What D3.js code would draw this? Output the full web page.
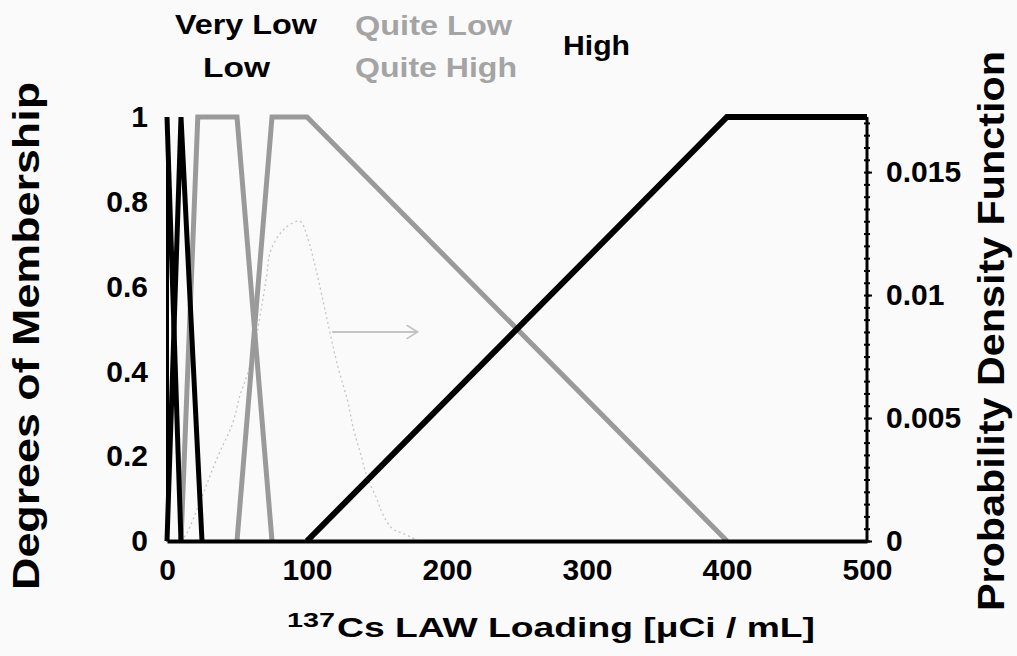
<!DOCTYPE html>
<html>
<head>
<meta charset="utf-8">
<script src="https://cdn.jsdelivr.net/npm/d3@7"></script>
<style>
  body { margin: 0; background: #fafafa; }
  svg { display: block; }
  text { font-family: "Liberation Sans", Arial, sans-serif; font-weight: bold; }
</style>
</head>
<body>
<svg id="chart"></svg>
<script>
// membership functions: [loading, degree]
const veryLow   = [[0, 1], [10, 0]];
const low       = [[0, 0], [10, 1], [25, 0]];
const quiteLow  = [[10, 0], [22, 1], [50, 1], [75, 0]];
const quiteHigh = [[50, 0], [75, 1], [100, 1], [400, 0]];
const high      = [[100, 0], [400, 1], [500, 1]];

// probability density of the loading (right axis)
const pdfX = [10, 14, 36, 47, 52, 57, 61, 71, 74, 84, 95, 100, 107, 114, 122, 129, 133, 138, 143, 150, 154, 161, 169, 180];
const pdfY = [0, 0.0003, 0.0034, 0.0048, 0.0059, 0.0067, 0.0075, 0.0107, 0.0118, 0.0127, 0.0130, 0.0124, 0.0109, 0.0091, 0.0071, 0.0057, 0.0046, 0.0036, 0.0026, 0.0017, 0.0011, 0.0005, 0.0003, 0];

// arrow pointing to the right-hand axis: [loading, density]
const arrowFrom = [118, 0.0085];
const arrowTo   = [179, 0.0085];

const xTicks = [0, 100, 200, 300, 400, 500];
const yTicks = [0, 0.2, 0.4, 0.6, 0.8, 1];
const pdfTicks = [0, 0.005, 0.01, 0.015];
const pdfMinor = d3.range(0, 35).map(i => i * 0.0005);

const legend = [
  { name: 'Very Low',   color: '#000',    x: 175, y: 34, w: 142 },
  { name: 'Low',        color: '#000',    x: 203, y: 77, w: 67 },
  { name: 'Quite Low',  color: '#a4a4a4', x: 355, y: 35, w: 157 },
  { name: 'Quite High', color: '#a4a4a4', x: 355, y: 77, w: 162 },
  { name: 'High',       color: '#000',    x: 563, y: 55, w: 67 }
];

const width = 1017;
const height = 656;
const margin = { top: 117, right: 150, bottom: 115, left: 167 };
const innerW = width - margin.left - margin.right;
const innerH = height - margin.top - margin.bottom;

const svg = d3.select('#chart')
  .attr('width', width)
  .attr('height', height);

const chart = svg.append('g')
  .attr('transform', `translate(${margin.left},${margin.top})`);

const xScale = d3.scaleLinear().domain([0, 500]).range([0, innerW]);
const yScale = d3.scaleLinear().domain([0, 1]).range([innerH, 0]);
const pdfScale = d3.scaleLinear().domain([0, 0.01724]).range([innerH, 0]);

const line = d3.line()
  .x(d => xScale(d[0]))
  .y(d => yScale(d[1]));

// PDF curve (faint dotted)
chart.append('path')
  .datum(pdfX.map((x, i) => [x, pdfY[i]]))
  .attr('fill', 'none')
  .attr('stroke', '#c4c4c4')
  .attr('stroke-width', 1.3)
  .attr('stroke-dasharray', '2,3')
  .attr('d', d3.line()
    .x(d => xScale(d[0]))
    .y(d => pdfScale(d[1]))
    .curve(d3.curveCatmullRom));

// Arrow
svg.append('defs').append('marker')
  .attr('id', 'head')
  .attr('viewBox', '0 0 10 10')
  .attr('refX', 9)
  .attr('refY', 5)
  .attr('markerWidth', 14)
  .attr('markerHeight', 14)
  .attr('markerUnits', 'userSpaceOnUse')
  .attr('orient', 'auto')
  .append('path')
  .attr('d', 'M1,0 L9,5 L1,10')
  .attr('fill', 'none')
  .attr('stroke', '#c4c4c4')
  .attr('stroke-width', 1.2);

chart.append('line')
  .attr('x1', xScale(arrowFrom[0]))
  .attr('y1', pdfScale(arrowFrom[1]))
  .attr('x2', xScale(arrowTo[0]))
  .attr('y2', pdfScale(arrowTo[1]))
  .attr('stroke', '#c4c4c4')
  .attr('stroke-width', 2)
  .attr('marker-end', 'url(#head)');

// Membership functions
const sets = [
  { data: quiteLow, color: '#9a9a9a', w: 5 },
  { data: quiteHigh, color: '#9a9a9a', w: 5 },
  { data: veryLow, color: '#000', w: 5 },
  { data: low, color: '#000', w: 5 },
  { data: high, color: '#000', w: 6 }
];

chart.selectAll('.mf')
  .data(sets)
  .enter()
  .append('path')
  .attr('class', 'mf')
  .attr('fill', 'none')
  .attr('stroke', d => d.color)
  .attr('stroke-width', d => d.w)
  .attr('stroke-linejoin', 'miter')
  .attr('d', d => line(d.data));

// X Axis
const xAxis = chart.append('g')
  .attr('transform', `translate(0,${innerH})`)
  .call(d3.axisBottom(xScale).tickValues(xTicks).tickSize(0).tickPadding(18));
xAxis.select('.domain').attr('stroke', '#000').attr('stroke-width', 4);
xAxis.selectAll('text').attr('font-size', 30).attr('fill', '#000');

// Left Y Axis
const yAxis = chart.append('g')
  .call(d3.axisLeft(yScale).tickValues(yTicks).tickSize(0).tickPadding(19).tickFormat(d3.format('~g')));
yAxis.select('.domain').attr('stroke', '#000').attr('stroke-width', 3);
yAxis.selectAll('text').attr('font-size', 30).attr('fill', '#000');

// Right Y Axis
chart.append('line')
  .attr('x1', innerW).attr('x2', innerW)
  .attr('y1', 0).attr('y2', innerH)
  .attr('stroke', '#000').attr('stroke-width', 3);

chart.append('g')
  .attr('transform', `translate(${innerW - 3},0)`)
  .call(d3.axisRight(pdfScale).tickValues(pdfMinor.filter(v => v <= 0.0172)).tickSize(6).tickFormat(''))
  .call(g => g.select('.domain').remove())
  .call(g => g.selectAll('line').attr('stroke', '#000').attr('stroke-width', 2));

const rAxis = chart.append('g')
  .attr('transform', `translate(${innerW},0)`)
  .call(d3.axisRight(pdfScale).tickValues(pdfTicks).tickSize(5).tickPadding(14).tickFormat(d3.format('~g')));
rAxis.select('.domain').remove();
rAxis.selectAll('line').attr('stroke', '#000').attr('stroke-width', 2);
rAxis.selectAll('text').attr('font-size', 30).attr('fill', '#000');

// Axis titles
const xt = svg.append('g');
xt.append('text')
  .attr('x', 287).attr('y', 627)
  .attr('font-size', 21)
  .attr('textLength', 48).attr('lengthAdjust', 'spacingAndGlyphs')
  .text('137');
xt.append('text')
  .attr('x', 337).attr('y', 637)
  .attr('font-size', 27)
  .attr('textLength', 478).attr('lengthAdjust', 'spacingAndGlyphs')
  .text('Cs LAW Loading [μCi / mL]');

svg.append('text')
  .attr('transform', 'translate(39,336) rotate(-90)')
  .attr('text-anchor', 'middle')
  .attr('font-size', 36)
  .attr('textLength', 508).attr('lengthAdjust', 'spacingAndGlyphs')
  .text('Degrees of Membership');

svg.append('text')
  .attr('transform', 'translate(1004,331) rotate(-90)')
  .attr('text-anchor', 'middle')
  .attr('font-size', 36)
  .attr('textLength', 560).attr('lengthAdjust', 'spacingAndGlyphs')
  .text('Probability Density Function');

// Legend labels
svg.selectAll('.legend')
  .data(legend)
  .enter()
  .append('text')
  .attr('class', 'legend')
  .attr('x', d => d.x)
  .attr('y', d => d.y)
  .attr('font-size', 28)
  .attr('fill', d => d.color)
  .attr('textLength', d => d.w)
  .attr('lengthAdjust', 'spacingAndGlyphs')
  .text(d => d.name);
</script>
</body>
</html>
